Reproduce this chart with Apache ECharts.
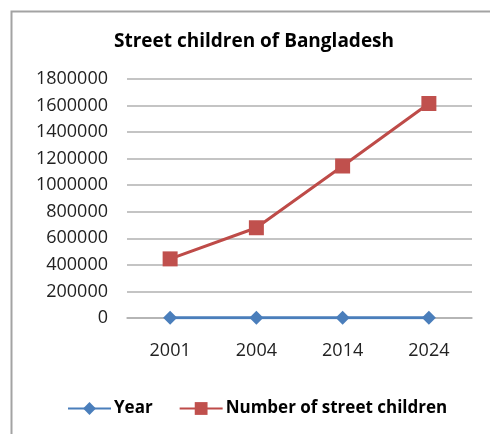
<!DOCTYPE html>
<html><head><meta charset="utf-8">
<script src="https://cdn.jsdelivr.net/npm/echarts@6/dist/echarts.min.js"></script>
<style>html,body{margin:0;padding:0;background:#fff}#c{width:490px;height:434px}</style>
</head><body><div id="c"></div>
<script>
const categories = ['2001', '2004', '2014', '2024'];
const yearValues = [2001, 2004, 2014, 2024];
const childrenValues = [445226, 679728, 1144754, 1615330];
const seriesNames = ['Year', 'Number of street children'];
const titleText = 'Street children of Bangladesh';

const FONT = '"Open Sans", sans-serif';
const chart = echarts.init(document.getElementById('c'));
chart.setOption({
  animation: false,
  backgroundColor: '#fff',
  graphic: [{
    type: 'rect', left: 9, top: 9, silent: true,
    shape: { width: 600, height: 600 },
    style: { fill: 'none', stroke: '#a3a3a3', lineWidth: 2 }
  }],
  title: {
    text: titleText, left: 249, textAlign: 'center', top: 27,
    textStyle: { fontFamily: FONT, fontSize: 19, fontWeight: 'bold', color: '#000' }
  },
  legend: {
    left: 62, top: 395, itemWidth: 43, itemHeight: 16, itemGap: 26,
    textStyle: { fontFamily: FONT, fontSize: 17, fontWeight: 'bold', color: '#000', padding: [0, 0, 0, -2] },
    data: seriesNames
  },
  grid: { left: 127, right: 18, top: 79, bottom: 116, containLabel: false },
  xAxis: {
    type: 'category', data: categories, boundaryGap: true,
    axisLine: { show: true, lineStyle: { color: '#b0b0b0', width: 1.5 } },
    axisTick: { show: false },
    axisLabel: { fontFamily: FONT, fontSize: 18, color: '#222', margin: 24 }
  },
  yAxis: {
    type: 'value', min: 0, max: 1800000, interval: 200000,
    axisLine: { show: false }, axisTick: { show: false },
    splitLine: { lineStyle: { color: '#b0b0b0', width: 1.5 } },
    axisLabel: { fontFamily: FONT, fontSize: 18, color: '#222', margin: 19,
      formatter: function (v) { return String(v); } }
  },
  series: [
    { name: seriesNames[0], type: 'line', data: yearValues, symbol: 'diamond', symbolSize: 14,
      lineStyle: { color: '#4a7ebb', width: 3 }, itemStyle: { color: '#4a7ebb' } },
    { name: seriesNames[1], type: 'line', data: childrenValues, symbol: 'rect', symbolSize: 15,
      lineStyle: { color: '#be4b48', width: 3 }, itemStyle: { color: '#c0504d' } }
  ]
});
</script></body></html>
